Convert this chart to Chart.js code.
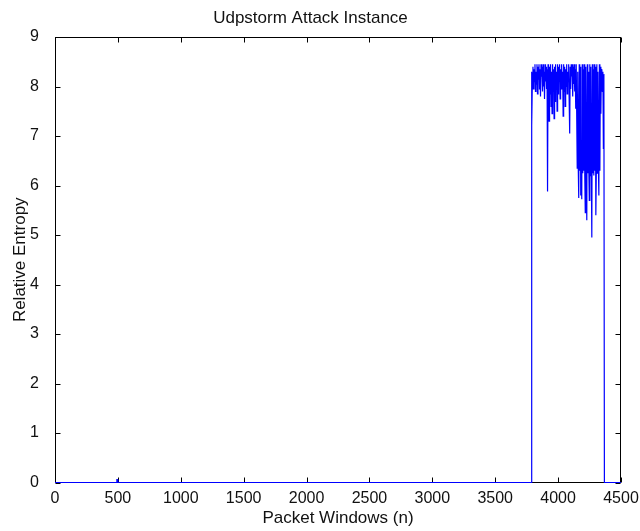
<!DOCTYPE html>
<html>
<head>
<meta charset="utf-8">
<script src="https://cdn.jsdelivr.net/npm/chart.js@4.4.0/dist/chart.umd.min.js"></script>
<style>
  html, body { margin: 0; padding: 0; background: #fff; }
  canvas { display: block; }
</style>
</head>
<body>
<canvas id="entropyChart" width="640" height="531"></canvas>
<script>
// quiet part of the trace (windows before the attack)
const quietWindows = [0, 488, 492, 496, 500, 3785];
const quietEntropy = [0, 0, 0.06, 0.06, 0, 0];

// attack part: one value every 4 packet windows starting at 3788
const attackStart = 3788;
const attackStep = 4;
const attackEntropy = [
  8.30, 7.20, 8.25, 8.40, 7.95, 8.35, 8.10, 8.45, 7.90, 8.30,
  8.05, 8.45, 7.85, 8.40, 8.15, 8.45, 7.95, 8.35, 7.80, 8.45,
  8.20, 8.40, 7.90, 8.45, 8.00, 8.30, 7.75, 8.45, 8.10, 8.40,
  7.95, 8.35, 5.88, 8.45, 8.05, 7.30, 8.40, 7.85, 8.45, 7.60,
  8.30, 7.45, 8.45, 7.90, 8.35, 7.35, 8.40, 7.70, 8.45, 8.00,
  8.30, 7.50, 8.45, 7.85, 8.40, 8.10, 8.45, 7.75, 8.35, 7.95,
  8.45, 8.05, 8.30, 7.40, 8.45, 7.90, 8.40, 7.60, 8.35, 8.00,
  8.45, 7.85, 8.30, 8.10, 8.45, 7.70, 7.05, 8.40, 7.95, 8.45,
  8.20, 8.45, 7.80, 8.40, 8.05, 8.45, 7.90, 8.35, 7.55, 8.45,
  8.45, 6.35, 8.30, 6.40, 5.75, 8.45, 6.30, 8.40, 5.80, 6.45,
  5.72, 8.45, 6.25, 8.35, 6.30, 8.45, 6.20, 5.45, 8.40, 6.30,
  5.30, 8.45, 6.25, 8.30, 6.35, 5.70, 8.45, 6.20, 8.40, 6.30,
  4.95, 8.45, 6.25, 8.35, 6.20, 8.45, 6.30, 8.40, 5.40, 6.35,
  8.45, 6.25, 8.30, 6.40, 5.80, 8.45, 6.30, 8.40, 7.45, 8.35,
  8.25, 7.90, 8.30, 6.75, 8.25
];

// after the attack
const tailWindows = [4368, 4500];
const tailEntropy = [0, 0];

const xTicks = [0, 500, 1000, 1500, 2000, 2500, 3000, 3500, 4000, 4500];
const yTicks = [0, 1, 2, 3, 4, 5, 6, 7, 8, 9];

const points = [];
quietWindows.forEach((w, i) => points.push({ x: w, y: quietEntropy[i] }));
attackEntropy.forEach((v, i) => points.push({ x: attackStart + i * attackStep, y: v }));
tailWindows.forEach((w, i) => points.push({ x: w, y: tailEntropy[i] }));

const family = '"Liberation Sans", Arial, sans-serif';
const tickFont = { family, size: 16 };
const labelFont = { family, size: 17 };
const ink = '#111';

// matlab style box with ticks pointing inwards
const matlabBox = {
  id: 'matlabBox',
  beforeDatasetsDraw(chart) {
    const { ctx, chartArea: a, scales: { x, y } } = chart;
    const L = Math.round(a.left) + 0.5, R = Math.round(a.right) - 0.5;
    const T = Math.round(a.top) + 0.5, B = Math.round(a.bottom) - 0.5;
    ctx.save();
    ctx.strokeStyle = '#000';
    ctx.lineWidth = 1;
    ctx.beginPath();
    x.ticks.forEach(t => {
      const px = Math.round(x.getPixelForValue(t.value)) + 0.5;
      ctx.moveTo(px, B); ctx.lineTo(px, B - 5);
      ctx.moveTo(px, T); ctx.lineTo(px, T + 5);
    });
    y.ticks.forEach(t => {
      const py = Math.round(y.getPixelForValue(t.value)) + 0.5;
      ctx.moveTo(L, py); ctx.lineTo(L + 5, py);
      ctx.moveTo(R, py); ctx.lineTo(R - 5, py);
    });
    ctx.stroke();
    ctx.strokeRect(L, T, R - L, B - T);
    ctx.restore();
  }
};

new Chart(document.getElementById('entropyChart'), {
  type: 'line',
  data: {
    datasets: [{
      label: 'Relative Entropy',
      data: points,
      borderColor: '#0000ff',
      borderWidth: 1.2,
      pointRadius: 0,
      tension: 0,
      fill: false,
      clip: false
    }]
  },
  options: {
    responsive: false,
    animation: false,
    devicePixelRatio: 1,
    layout: { padding: { left: 0, right: 19, top: 0, bottom: 0 } },
    scales: {
      x: {
        type: 'linear',
        min: 0,
        max: 4500,
        afterBuildTicks: s => { s.ticks = xTicks.map(v => ({ value: v })); },
        afterFit: s => { s.height = 48.5; },
        grid: { display: false },
        border: { display: false },
        ticks: { font: tickFont, color: ink, padding: -2, maxRotation: 0, autoSkip: false, callback: v => String(v) },
        title: { display: true, text: 'Packet Windows (n)', font: labelFont, color: ink, padding: { top: 0, bottom: 2 } }
      },
      y: {
        min: 0,
        max: 9,
        afterBuildTicks: s => { s.ticks = yTicks.map(v => ({ value: v })); },
        afterFit: s => { s.width = 55; },
        grid: { display: false },
        border: { display: false },
        ticks: { font: tickFont, color: ink, padding: 8, callback: v => String(v) },
        title: { display: true, text: 'Relative Entropy', font: labelFont, color: ink, padding: { top: 10, bottom: 0 } }
      }
    },
    plugins: {
      legend: { display: false },
      tooltip: { enabled: false },
      title: {
        display: true,
        text: 'Udpstorm Attack Instance',
        font: { family, size: 17, weight: 'normal' },
        color: ink,
        padding: { top: 8, bottom: 8.6 }
      }
    }
  },
  plugins: [matlabBox]
});
</script>
</body>
</html>
